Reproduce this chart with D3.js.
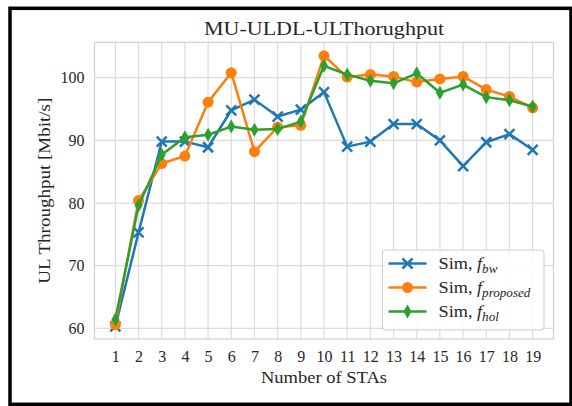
<!DOCTYPE html>
<html>
<head>
<meta charset="utf-8">
<script src="https://cdn.jsdelivr.net/npm/d3@7"></script>
<style>
  body { margin: 0; background: #fff; }
  svg { display: block; font-family: "Liberation Serif", "DejaVu Serif", serif; }
</style>
</head>
<body>
<div id="chart"></div>
<script>
// number of stations on the x axis
var stas = [1, 2, 3, 4, 5, 6, 7, 8, 9, 10, 11, 12, 13, 14, 15, 16, 17, 18, 19];

// throughput values
var fBw = [60.3, 75.3, 89.8, 89.8, 88.9, 94.8, 96.5, 93.8, 94.9, 97.7, 89.0, 89.8, 92.6, 92.6, 90.0, 85.9, 89.7, 91.0, 88.5];
var fProposed = [60.6, 80.4, 86.3, 87.5, 96.1, 100.8, 88.2, 92.1, 92.4, 103.5, 100.1, 100.5, 100.2, 99.3, 99.8, 100.2, 98.1, 97.0, 95.2];
var fHol = [61.4, 79.6, 87.7, 90.5, 90.9, 92.2, 91.7, 91.8, 93.0, 101.9, 100.5, 99.5, 99.1, 100.7, 97.6, 98.9, 96.9, 96.4, 95.4];

var yTicks = [60, 70, 80, 90, 100];

var series = [
  { name: "bw", values: fBw, color: "#1f77b4", marker: "x" },
  { name: "proposed", values: fProposed, color: "#ff7f0e", marker: "o" },
  { name: "hol", values: fHol, color: "#2ca02c", marker: "d" }
];

var width = 572,
    height = 406;

var plot = { left: 94.5, right: 553.5, top: 42.3, bottom: 339 };

var svg = d3.select("#chart").append("svg")
    .attr("width", width)
    .attr("height", height);

// the computer modern font of the original is wider than Times,
// so stretch the text a bit
function widen(sel, w) {
  sel.attr("textLength", w).attr("lengthAdjust", "spacingAndGlyphs");
}

// black frame around the whole figure
svg.append("rect")
    .attr("x", 10).attr("y", 8.3)
    .attr("width", 561).attr("height", 396)
    .attr("fill", "#fff")
    .attr("stroke", "#000")
    .attr("stroke-width", 3.5);

var x = d3.scaleLinear().domain([0.1, 19.9]).range([plot.left, plot.right]);
var y = d3.scaleLinear().domain([58.3, 105.65]).range([plot.bottom, plot.top]);

// grid
svg.append("g").selectAll("line")
    .data(stas)
    .enter().append("line")
    .attr("x1", d => x(d)).attr("x2", d => x(d))
    .attr("y1", plot.top).attr("y2", plot.bottom)
    .style("stroke", "#dcdcdc")
    .style("stroke-width", "1.2px");

svg.append("g").selectAll("line")
    .data(yTicks)
    .enter().append("line")
    .attr("x1", plot.left).attr("x2", plot.right)
    .attr("y1", d => y(d)).attr("y2", d => y(d))
    .style("stroke", "#dcdcdc")
    .style("stroke-width", "1.2px");

svg.append("rect")
    .attr("x", plot.left).attr("y", plot.top)
    .attr("width", plot.right - plot.left)
    .attr("height", plot.bottom - plot.top)
    .attr("fill", "none")
    .style("stroke", "#d0d0d0")
    .style("stroke-width", "1.2px");

// axes (labels only, no tick marks)
var xAxis = svg.append("g")
    .attr("transform", "translate(0," + plot.bottom + ")")
    .call(d3.axisBottom(x).tickValues(stas).tickSize(0).tickPadding(12));
var yAxis = svg.append("g")
    .attr("transform", "translate(" + plot.left + ",0)")
    .call(d3.axisLeft(y).tickValues(yTicks).tickSize(0).tickPadding(10));

[xAxis, yAxis].forEach(function(a) {
  a.select(".domain").remove();
  a.selectAll("text")
    .style("font-family", "Liberation Serif, serif")
    .style("font-size", "16px")
    .attr("fill", "#262626");
});

// title and axis labels
svg.append("text")
    .attr("x", (plot.left + plot.right) / 2)
    .attr("y", 35)
    .attr("text-anchor", "middle")
    .style("font-size", "18px")
    .attr("fill", "#262626")
    .text("MU-ULDL-ULThorughput")
    .call(widen, 240);

svg.append("text")
    .attr("x", (plot.left + plot.right) / 2)
    .attr("y", 383)
    .attr("text-anchor", "middle")
    .style("font-size", "16px")
    .attr("fill", "#262626")
    .text("Number of STAs")
    .call(widen, 126);

svg.append("text")
    .attr("transform", "translate(50," + ((plot.top + plot.bottom) / 2) + ") rotate(-90)")
    .attr("text-anchor", "middle")
    .style("font-size", "16px")
    .attr("fill", "#262626")
    .text("UL Throughput [Mbit/s]")
    .call(widen, 186);

var line = d3.line()
    .x(function(d, i) { return x(stas[i]); })
    .y(function(d) { return y(d); });

function drawMarker(g, type, color) {
  if (type === "x") {
    g.append("path")
      .attr("d", "M-5,-5L5,5M-5,5L5,-5")
      .style("stroke", color)
      .style("stroke-width", "2.5px")
      .style("fill", "none");
  } else if (type === "o") {
    g.append("circle")
      .attr("r", 5.5)
      .style("fill", color);
  } else {
    g.append("path")
      .attr("d", "M0,-7L4,0L0,7L-4,0Z")
      .style("fill", color);
  }
}

series.forEach(function(s) {
  svg.append("path")
    .datum(s.values)
    .attr("d", line)
    .style("fill", "none")
    .style("stroke", s.color)
    .style("stroke-width", "2.5px")
    .style("stroke-linejoin", "round");

  svg.append("g").selectAll("g")
    .data(s.values)
    .enter().append("g")
    .attr("transform", function(d, i) { return "translate(" + x(stas[i]) + "," + y(d) + ")"; })
    .each(function() { drawMarker(d3.select(this), s.marker, s.color); });
});

// legend
var legend = svg.append("g").attr("transform", "translate(382.5,250)");
legend.append("rect")
    .attr("width", 161.5).attr("height", 80)
    .attr("rx", 3)
    .attr("fill", "#fff")
    .attr("fill-opacity", 0.85)
    .style("stroke", "#cccccc")
    .style("stroke-width", "1px");

series.forEach(function(s, i) {
  var row = legend.append("g").attr("transform", "translate(0," + (13.5 + i * 24) + ")");
  row.append("line")
    .attr("x1", 6).attr("x2", 44)
    .style("stroke", s.color)
    .style("stroke-width", "2.5px");
  var m = row.append("g").attr("transform", "translate(25,0)");
  drawMarker(m, s.marker, s.color);
  var t = row.append("text")
    .attr("x", 56).attr("y", 5.5)
    .style("font-size", "16px")
    .attr("fill", "#262626");
  t.append("tspan").text("Sim, ");
  t.append("tspan").style("font-style", "italic").text("f");
  t.append("tspan")
    .style("font-style", "italic")
    .style("font-size", "11.5px")
    .attr("dy", 3.5)
    .text(s.name);
  widen(t, t.node().getComputedTextLength() * 1.14);
});
</script>
</body>
</html>
